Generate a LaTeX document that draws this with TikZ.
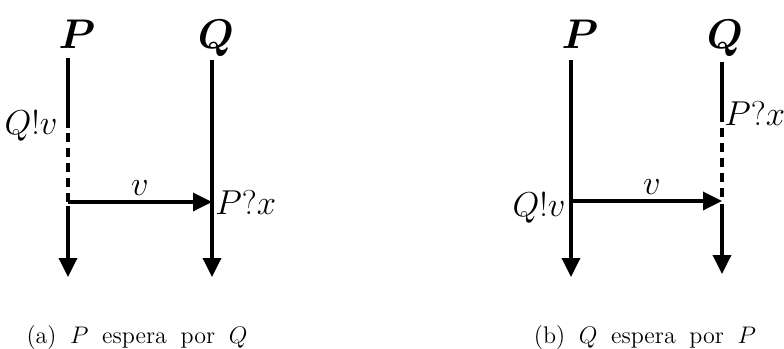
\documentclass[tikz,border=0pt]{standalone}
\usetikzlibrary{arrows.meta}
\begin{document}
\begin{tikzpicture}[x=0.5pt,y=-0.5pt,
  line/.style={line width=1.75pt},
  arr/.style={line width=1.75pt, -{Triangle[length=9.5pt,width=9pt]}},
  waitline/.style={line width=1.75pt, dash pattern=on 4.5pt off 3pt},
  proc/.style={font=\fontsize{20}{22}\selectfont\boldmath, anchor=base, inner sep=0pt},
  lab/.style={font=\fontsize{16}{18}\selectfont, inner sep=0pt},
  captext/.style={font=\fontsize{12}{14}\selectfont, inner sep=0pt, anchor=base}]
\useasboundingbox (0,0) rectangle (784,349);

% ---------- panel (a) ----------
\node[proc] (aP) at (77,48) {$P$};
\node[proc] (aQ) at (216,48) {$Q$};
\coordinate (aPtop) at (68,58);
\coordinate (aPw1) at (68,128);
\coordinate (aPw2) at (68,133);
\coordinate (aPs) at (68,202);
\coordinate (aPs2) at (68,206);
\coordinate (aPend) at (68,277);
\coordinate (aQtop) at (212,60);
\coordinate (aQr) at (212,202);
\coordinate (aQend) at (212,277);
\draw[line] (aPtop) -- (aPw1);
\draw[waitline] (aPw2) -- (aPs);
\draw[arr] (aPs2) -- (aPend);
\draw[arr] (aQtop) -- (aQend);
\draw[arr] (aPs) -- (aQr);
\node[lab, anchor=base east] (aSend) at (58,134) {$Q!v$};
\node[lab, anchor=base] (av) at (140,195) {$v$};
\node[lab, anchor=base west] (aRecv) at (215,214) {$P?x$};
\node[captext] (capa) at (137,343) {\spaceskip=6.8pt (a) $P$ espera por $Q$};

% ---------- panel (b) ----------
\node[proc] (bP) at (580,48) {$P$};
\node[proc] (bQ) at (725,48) {$Q$};
\coordinate (bPtop) at (571,60);
\coordinate (bPs) at (571,201);
\coordinate (bPend) at (571,277);
\coordinate (bQtop) at (722,62);
\coordinate (bQw1) at (722,122);
\coordinate (bQw2) at (722,128);
\coordinate (bQw3) at (722,198);
\coordinate (bQr) at (722,201);
\coordinate (bQs2) at (722,204);
\coordinate (bQend) at (722,274);
\draw[arr] (bPtop) -- (bPend);
\draw[line] (bQtop) -- (bQw1);
\draw[waitline] (bQw2) -- (bQw3);
\draw[arr] (bQs2) -- (bQend);
\draw[arr] (bPs) -- (bQr);
\node[lab, anchor=base east] (bSend) at (566,216) {$Q!v$};
\node[lab, anchor=base] (bv) at (652,194) {$v$};
\node[lab, anchor=base west] (bRecv) at (724,125) {$P?x$};
\node[captext] (capb) at (645,343) {\spaceskip=6.8pt (b) $Q$ espera por $P$};
\end{tikzpicture}
\end{document}
